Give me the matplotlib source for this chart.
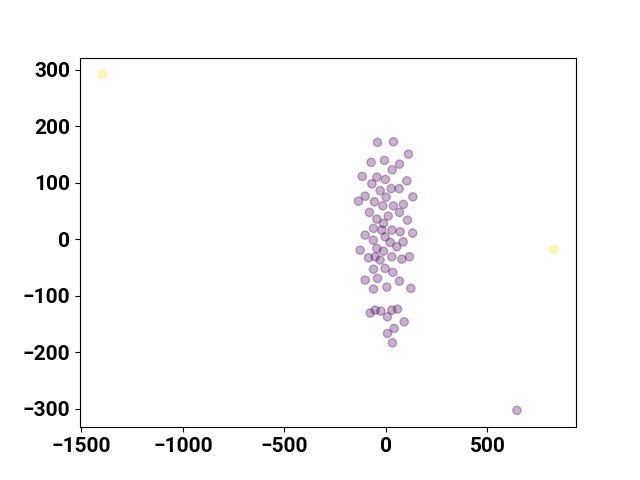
import matplotlib
matplotlib.use("Agg")
import matplotlib.pyplot as plt

plt.rcParams['font.family'] = ['Roboto', 'DejaVu Sans']
plt.rcParams['font.weight'] = 'bold'
plt.rcParams['font.size'] = 15

# main cluster
cluster_x = [-41.8, 36.9, 110.7, -72.9, -7.4, 66.4, 30.5, -117.1, -44.8, -2.5,
             -69.4, 102.8, -28.6, 25.6, 64.9, 132.4, -135.4, -102.4, -56.6, 1.0,
             -15.3, 36.9, 86.1, 66.4, -81.2, -44.8, -12.3, 10.8, 105.8, -61.5,
             -20.2, 29.0, 69.9, 131.4, -102.4, -63.0, -4.0, 20.7, 53.6, 84.6,
             -127.0, -44.8, -12.3, -86.1, -53.2, -28.6, 29.0, 78.2, 115.6, -61.5,
             -4.0, 33.9, -102.4, -41.8, 4.4, 66.4, -61.5, 122.5, -77.8, -53.2,
             -25.4, 7.4, 29.0, 56.6, 89.6, 40.3, 7.4, 32.0]
cluster_y = [171.7, 172.8, 151.0, 136.4, 139.9, 133.3, 123.2, 111.6, 110.3, 106.2,
             98.4, 103.7, 86.4, 90.0, 90.0, 75.4, 67.8, 76.6, 66.6, 74.9,
             59.4, 59.4, 62.0, 47.8, 47.8, 36.0, 28.3, 41.3, 34.1, 19.5,
             16.5, 16.5, 13.5, 11.2, 7.6, -1.3, 4.6, -5.3, -13.1, -4.3,
             -19.0, -16.0, -20.8, -32.6, -30.8, -36.6, -30.8, -34.9, -30.8, -52.8,
             -51.4, -58.4, -72.1, -69.1, -84.5, -73.9, -88.0, -86.7, -130.3, -125.2,
             -127.0, -137.0, -125.2, -123.5, -146.0, -157.6, -166.5, -183.1]

# far-away points
outlier_x = [-1396, 825, 645]
outlier_y = [292.2, -17.7, -302.8]
outlier_label = [1, 1, 0]

x = cluster_x + outlier_x
y = cluster_y + outlier_y
labels = [0] * len(cluster_x) + outlier_label

fig, ax = plt.subplots(figsize=(6.4, 4.8), dpi=100)
ax.scatter(x, y, c=labels, cmap='viridis', alpha=0.3)
fig.savefig('out.png')
